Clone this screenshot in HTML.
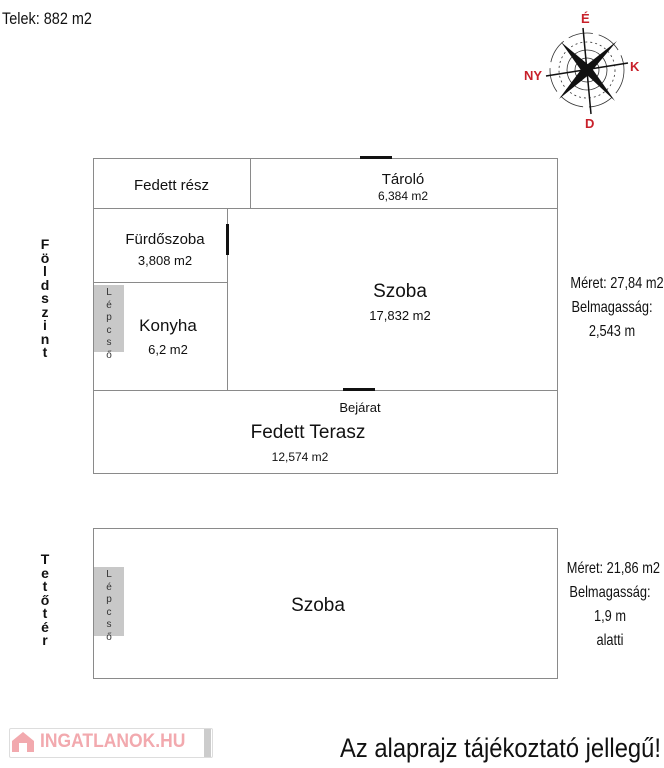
<!DOCTYPE html><html><head><meta charset="utf-8"><style>
body{margin:0;width:664px;height:768px;background:#fff;position:relative;font-family:"Liberation Sans",sans-serif;color:#111;overflow:hidden}
.a{position:absolute}
.t{position:absolute;text-align:center;white-space:nowrap}
.l{position:absolute;background:#8a8a8a}
.v{position:absolute;text-align:center;font-size:14px;font-weight:bold;line-height:13.5px;width:14px}
.lp{position:absolute;background:#c8c8c8;width:30px;text-align:center;font-size:10px;line-height:12.5px;color:#333}
</style></head><body>
<div class="t" style="left:2px;top:9px;font-size:17px;transform:scaleX(.85);transform-origin:left">Telek: 882 m2</div>
<svg class="a" style="left:520px;top:0px" width="144" height="135">
<g fill="#c8202a" font-family="Liberation Sans" font-weight="bold" font-size="13"><text x="61" y="23">É</text><text x="110" y="71">K</text><text x="4" y="80">NY</text><text x="65" y="128">D</text></g>
<g stroke="#333" fill="none" stroke-width="0.8"><circle cx="67" cy="70" r="37" stroke-dasharray="25 6"/><circle cx="67" cy="70" r="28" stroke-dasharray="2 3"/><circle cx="67" cy="70" r="20"/><circle cx="67" cy="70" r="12"/></g>
<g stroke="#111" stroke-width="1.5"><line x1="63" y1="28" x2="71" y2="114"/><line x1="26" y1="76" x2="108" y2="63"/></g>
<g fill="#111"><polygon points="41,42 71,67 63,73"/><polygon points="97,41 64,67 70,73"/><polygon points="39,99 63,67 71,73"/><polygon points="95,101 65,73 71,67"/></g>
</svg>
<!-- ground floor -->
<div class="a" style="left:93px;top:158px;width:463px;height:314px;border:1px solid #8a8a8a"></div>
<div class="l" style="left:93px;top:208px;width:464px;height:1px"></div>
<div class="l" style="left:250px;top:158px;width:1px;height:50px"></div>
<div class="l" style="left:93px;top:282px;width:134px;height:1px"></div>
<div class="l" style="left:227px;top:208px;width:1px;height:182px"></div>
<div class="l" style="left:93px;top:390px;width:464px;height:1px"></div>
<div class="a" style="left:360px;top:156px;width:32px;height:3px;background:#111"></div>
<div class="a" style="left:226px;top:224px;width:3px;height:31px;background:#111"></div>
<div class="a" style="left:343px;top:388px;width:32px;height:3px;background:#111"></div>
<div class="t" style="left:93px;width:157px;top:177px;font-size:15px">Fedett rész</div>
<div class="t" style="left:250px;width:306px;top:171px;font-size:15px">Tároló</div>
<div class="t" style="left:250px;width:306px;top:189px;font-size:12px">6,384 m2</div>
<div class="t" style="left:93px;width:144px;top:231px;font-size:15px">Fürdőszoba</div>
<div class="t" style="left:93px;width:144px;top:253px;font-size:13px">3,808 m2</div>
<div class="t" style="left:106px;width:124px;top:316px;font-size:17px">Konyha</div>
<div class="t" style="left:106px;width:124px;top:342px;font-size:13px">6,2 m2</div>
<div class="t" style="left:300px;width:200px;top:281px;font-size:19px">Szoba</div>
<div class="t" style="left:300px;width:200px;top:308px;font-size:13px">17,832 m2</div>
<div class="t" style="left:310px;width:100px;top:400px;font-size:13px">Bejárat</div>
<div class="t" style="left:208px;width:200px;top:422px;font-size:19px">Fedett Terasz</div>
<div class="t" style="left:200px;width:200px;top:450px;font-size:12px">12,574 m2</div>
<div class="lp" style="left:94px;top:285px;height:67px;padding-top:2px;box-sizing:border-box">L<br>é<br>p<br>c<br>s<br>ő</div>
<div class="v" style="left:38px;top:238px">F<br>ö<br>l<br>d<br>s<br>z<br>i<br>n<br>t</div>
<div class="t" style="left:560px;width:104px;top:272px;font-size:16px;line-height:24px;transform:scaleX(.8)">Méret: 27,84 m2<br>Belmagasság:<br>2,543 m</div>
<!-- upper -->
<div class="a" style="left:93px;top:528px;width:463px;height:149px;border:1px solid #8a8a8a"></div>
<div class="lp" style="left:94px;top:567px;height:69px;padding-top:2px;box-sizing:border-box">L<br>é<br>p<br>c<br>s<br>ő</div>
<div class="t" style="left:218px;width:200px;top:595px;font-size:19px">Szoba</div>
<div class="v" style="left:38px;top:553px">T<br>e<br>t<br>ő<br>t<br>é<br>r</div>
<div class="t" style="left:556px;width:108px;top:557px;font-size:16px;line-height:24px;transform:scaleX(.8)">Méret: 21,86 m2<br>Belmagasság:<br>1,9 m<br>alatti</div>
<!-- logo -->
<div class="a" style="left:9px;top:728px;width:202px;height:28px;border:1px solid #ddd;border-radius:2px;background:#fff"></div>
<div class="a" style="left:204px;top:729px;width:7px;height:28px;background:#ccc"></div>
<svg class="a" style="left:11px;top:731px" width="24" height="22"><polygon points="12,1 1,10 1,21 23,21 23,10" fill="#f2a9ae"/><rect x="8" y="12" width="8" height="9" fill="#fff"/></svg>
<div class="t" style="left:40px;top:731px;font-size:19px;font-weight:bold;color:#f2a9ae;transform:scaleX(.92);transform-origin:left">INGATLANOK.HU</div>
<div class="t" style="left:340px;top:733px;font-size:27px;transform:scaleX(.88);transform-origin:left">Az alaprajz tájékoztató jellegű!</div>
</body></html>
